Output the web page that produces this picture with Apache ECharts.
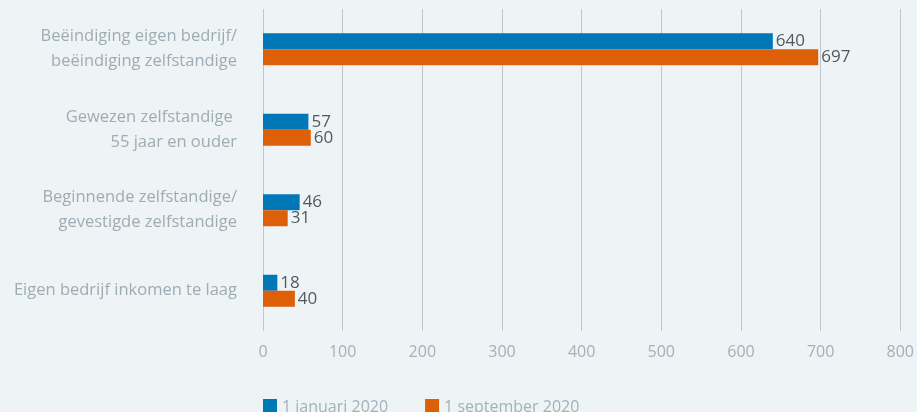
<!DOCTYPE html>
<html>
<head>
<meta charset="utf-8">
<script src="https://cdn.jsdelivr.net/npm/echarts@6/dist/echarts.min.js"></script>
<style>
  html, body { margin: 0; padding: 0; background: #eef3f6; }
  #chart { width: 917px; height: 412px; }
</style>
</head>
<body>
<div id="chart"></div>
<script>
// categories, top to bottom
var categories = [
  'Beëindiging eigen bedrijf/\nbeëindiging zelfstandige',
  'Gewezen zelfstandige \n55 jaar en ouder',
  'Beginnende zelfstandige/\ngevestigde zelfstandige',
  'Eigen bedrijf inkomen te laag'
];
var seriesNames = ['1 januari 2020', '1 september 2020'];
var valuesJan = [640, 57, 46, 18];
var valuesSep = [697, 60, 31, 40];
var xTicks = [0, 800, 100]; // min, max, interval

var chart = echarts.init(document.getElementById('chart'));
var font = '"Open Sans", Lato, sans-serif';

function barSeries(name, data, color) {
  return {
    name: name,
    type: 'bar',
    data: data,
    barWidth: 16,
    barGap: '0%',
    itemStyle: { color: color },
    label: {
      show: true,
      position: 'right',
      distance: 3,
      color: '#4f5a5f',
      fontSize: 17,
      fontFamily: font
    },
    emphasis: { disabled: true }
  };
}

chart.setOption({
  backgroundColor: '#eef3f6',
  animation: false,
  grid: { left: 263, right: 16, top: 9, bottom: 81 },
  legend: {
    left: 258,
    top: 394,
    itemWidth: 14,
    itemHeight: 16,
    itemGap: 37,
    icon: 'rect',
    textStyle: { color: '#a3b1b8', fontSize: 16, fontFamily: font, padding: [2, 0, 0, 0] },
    data: seriesNames
  },
  xAxis: {
    type: 'value',
    min: xTicks[0],
    max: xTicks[1],
    interval: xTicks[2],
    axisLine: { show: false },
    axisTick: { show: false },
    axisLabel: { color: '#a3b1b8', fontSize: 16, fontFamily: font, margin: 13 },
    splitLine: { lineStyle: { color: '#bcc8ce', width: 1 } }
  },
  yAxis: {
    type: 'category',
    inverse: true,
    data: categories,
    axisLine: { show: false },
    axisTick: { show: false },
    axisLabel: {
      color: '#9eacb3',
      fontSize: 16.5,
      fontFamily: font,
      margin: 26,
      lineHeight: 25,
      align: 'right'
    }
  },
  series: [
    barSeries(seriesNames[0], valuesJan, '#0077b7'),
    barSeries(seriesNames[1], valuesSep, '#dd5f07')
  ]
});
</script>
</body>
</html>
